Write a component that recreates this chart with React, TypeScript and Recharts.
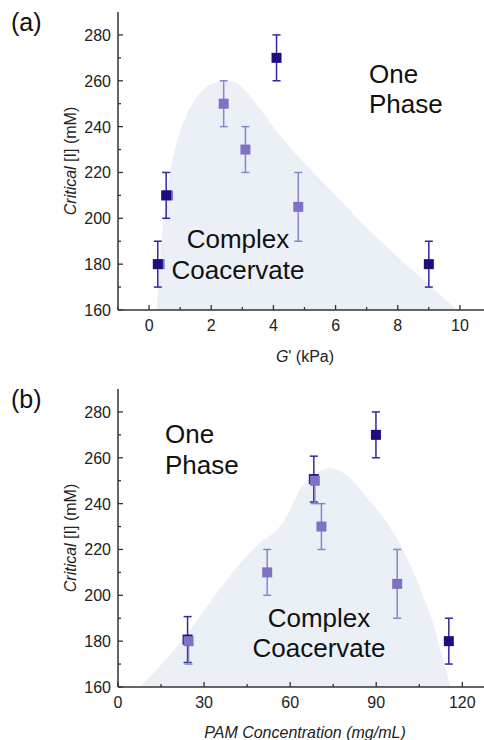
import React from 'react'
import { Area, ComposedChart, ErrorBar, Scatter, XAxis, YAxis } from 'recharts'

// panel (a): critical salt vs G'
const A_DARK = [
  { x: 0.28, y: 180, err: 10 },
  { x: 0.55, y: 210, err: 10 },
  { x: 4.1, y: 270, err: 10 },
  { x: 9.0, y: 180, err: 10 },
]
const A_LIGHT = [
  { x: 0.34, y: 180, err: 0 },
  { x: 0.61, y: 210, err: 0 },
  { x: 2.4, y: 250, err: 10 },
  { x: 3.1, y: 230, err: 10 },
  { x: 4.8, y: 205, err: 15 },
]
const A_REGION = [
  { x: 0.24, y: 160 },
  { x: 0.4, y: 190 },
  { x: 0.6, y: 214 },
  { x: 0.85, y: 231 },
  { x: 1.2, y: 245 },
  { x: 1.6, y: 254 },
  { x: 2.1, y: 259 },
  { x: 2.6, y: 260 },
  { x: 3.0, y: 257 },
  { x: 3.5, y: 249 },
  { x: 4.1, y: 238 },
  { x: 5, y: 224 },
  { x: 6, y: 210 },
  { x: 7, y: 196 },
  { x: 8, y: 183 },
  { x: 9, y: 171 },
  { x: 9.9, y: 160 },
]
const A_MAJOR = [0, 2, 4, 6, 8, 10]
const A_MINOR = [-1, 1, 3, 5, 7, 9, 11]

// panel (b): critical salt vs PAM concentration
const B_DARK = [
  { x: 24.25, y: 180.7, err: 10 },
  { x: 68.25, y: 250.7, err: 10 },
  { x: 89.9, y: 270, err: 10 },
  { x: 115.3, y: 180, err: 10 },
]
const B_LIGHT = [
  { x: 24.6, y: 180, err: [10, 0] },
  { x: 52, y: 210, err: 10 },
  { x: 68.6, y: 250, err: [10, 0] },
  { x: 70.9, y: 230, err: 10 },
  { x: 97.3, y: 205, err: 15 },
]
const B_REGION = [
  { x: 7.6, y: 160 },
  { x: 16, y: 171 },
  { x: 24.6, y: 184 },
  { x: 35, y: 202 },
  { x: 44, y: 216 },
  { x: 50.5, y: 224 },
  { x: 55, y: 228 },
  { x: 58.6, y: 234 },
  { x: 63.3, y: 246 },
  { x: 67.9, y: 252 },
  { x: 73.7, y: 255.5 },
  { x: 80, y: 252 },
  { x: 86.5, y: 243 },
  { x: 93, y: 233 },
  { x: 98, y: 223 },
  { x: 103, y: 210 },
  { x: 107.3, y: 196.6 },
  { x: 110.5, y: 185 },
  { x: 113, y: 173 },
  { x: 116, y: 160 },
]
const B_MAJOR = [0, 30, 60, 90, 120]
const B_MINOR = [15, 45, 75, 105]

const Y_MAJOR = [160, 180, 200, 220, 240, 260, 280]
const Y_MINOR = [170, 190, 210, 230, 250, 270]

const FONT = '"Liberation Sans", Arial, sans-serif'
const AXIS = '#333'
const DARK = '#1d0d80'
const DARK_BAR = '#3626a0'
const LIGHT = '#7d73c4'
const LIGHT_BAR = '#8c84cc'
const SHADE = '#ebf0f7'

const W = 501
const H = 370

const square = (fill: string) => (p: any) => (
  <rect x={p.cx - 5} y={p.cy - 5} width={10} height={10} fill={fill} />
)

const makeTick = (side: 'bottom' | 'top' | 'left', majors: number[], label: boolean) => (p: any) => {
  const v = p.payload.value
  const major = majors.includes(v)
  const len = major ? 5 : 3
  if (side === 'left') {
    return (
      <g>
        <line x1={p.x} x2={p.x + len} y1={p.y} y2={p.y} stroke={AXIS} strokeWidth={1.3} />
        {label && major && (
          <text x={p.x - 7} y={p.y + 6} textAnchor="end" fontSize={16} fill="#222" fontFamily={FONT}>
            {v}
          </text>
        )}
      </g>
    )
  }
  const dir = side === 'bottom' ? -1 : 1
  return (
    <g>
      <line x1={p.x} x2={p.x} y1={p.y} y2={p.y + dir * len} stroke={AXIS} strokeWidth={1.3} />
      {label && major && (
        <text x={p.x} y={p.y + 21} textAnchor="middle" fontSize={16} fill="#222" fontFamily={FONT}>
          {v}
        </text>
      )}
    </g>
  )
}

function Panel(props: {
  dark: any[]
  light: any[]
  region: any[]
  domain: [number, number]
  majors: number[]
  minors: number[]
  top: number
  xHeight: number
  lightOnTop: boolean
}) {
  const xTicks = [...props.majors, ...props.minors].sort((a, b) => a - b)
  const yTicks = [...Y_MAJOR, ...Y_MINOR].sort((a, b) => a - b)
  const darkS = (
    <Scatter key="d" data={props.dark} shape={square(DARK)} isAnimationActive={false}>
      <ErrorBar dataKey="err" direction="y" width={4} stroke={DARK_BAR} strokeWidth={1.5} />
    </Scatter>
  )
  const lightS = (
    <Scatter key="l" data={props.light} shape={square(LIGHT)} isAnimationActive={false}>
      <ErrorBar dataKey="err" direction="y" width={4} stroke={LIGHT_BAR} strokeWidth={1.5} />
    </Scatter>
  )
  return (
    <ComposedChart width={W} height={H} margin={{ top: props.top, right: 10, bottom: 0, left: 0 }}>
      <XAxis
        dataKey="x"
        type="number"
        domain={props.domain}
        ticks={xTicks}
        interval={0}
        height={props.xHeight}
        tickSize={0}
        tickMargin={0}
        tick={makeTick('bottom', props.majors, true)}
        axisLine={{ stroke: AXIS, strokeWidth: 1.5 }}
        allowDataOverflow
      />
      <XAxis
        xAxisId="top"
        orientation="top"
        dataKey="x"
        type="number"
        domain={props.domain}
        ticks={xTicks}
        interval={0}
        height={0}
        tickSize={0}
        tickMargin={0}
        tick={makeTick('top', props.majors, false)}
        axisLine={{ stroke: AXIS, strokeWidth: 1.5 }}
        allowDataOverflow
      />
      <YAxis
        dataKey="y"
        type="number"
        domain={[160, 290]}
        ticks={yTicks}
        interval={0}
        width={118}
        tickSize={0}
        tickMargin={0}
        tick={makeTick('left', Y_MAJOR, true)}
        axisLine={{ stroke: AXIS, strokeWidth: 1.5 }}
        allowDataOverflow
      />
      <Area
        data={props.region}
        dataKey="y"
        type="monotone"
        stroke="none"
        fill={SHADE}
        fillOpacity={1}
        isAnimationActive={false}
      />
      {props.lightOnTop ? [darkS, lightS] : [lightS, darkS]}
    </ComposedChart>
  )
}

const txt = { fontFamily: FONT, fill: '#111' }

export default function App() {
  return (
    <div
      style={{
        position: 'fixed',
        left: 0,
        top: 0,
        width: 484,
        height: 740,
        overflow: 'hidden',
        background: '#fff',
      }}
    >
      <div style={{ position: 'absolute', left: 0, top: 0 }}>
        <Panel
          dark={A_DARK}
          light={A_LIGHT}
          region={A_REGION}
          domain={[-1, 11]}
          majors={A_MAJOR}
          minors={A_MINOR}
          top={12}
          xHeight={60}
          lightOnTop={false}
        />
      </div>
      <div style={{ position: 'absolute', left: 0, top: 370 }}>
        <Panel
          dark={B_DARK}
          light={B_LIGHT}
          region={B_REGION}
          domain={[0, 130]}
          majors={B_MAJOR}
          minors={B_MINOR}
          top={19}
          xHeight={53}
          lightOnTop={true}
        />
      </div>
      <svg
        width={484}
        height={740}
        style={{ position: 'absolute', left: 0, top: 0, pointerEvents: 'none' }}
      >
        <text x={11} y={31} fontSize={25} {...txt}>(a)</text>
        <text x={11} y={408} fontSize={25} {...txt}>(b)</text>

        <text x={369} y={83} fontSize={26} {...txt}>One</text>
        <text x={369} y={113} fontSize={26} {...txt}>Phase</text>
        <text x={238} y={248} fontSize={26} textAnchor="middle" {...txt}>Complex</text>
        <text x={238} y={279} fontSize={26} textAnchor="middle" {...txt}>Coacervate</text>

        <text x={165} y={443} fontSize={26} {...txt}>One</text>
        <text x={165} y={474} fontSize={26} {...txt}>Phase</text>
        <text x={319} y={627} fontSize={26} textAnchor="middle" {...txt}>Complex</text>
        <text x={319} y={657} fontSize={26} textAnchor="middle" {...txt}>Coacervate</text>

        <text x={305} y={362} fontSize={16} textAnchor="middle" {...txt} fill="#222">
          <tspan fontStyle="italic">G</tspan>' (kPa)
        </text>
        <text x={305} y={738} fontSize={16} textAnchor="middle" fontStyle="italic" {...txt} fill="#222">
          PAM Concentration (mg/mL)
        </text>

        <text
          transform="translate(76 161) rotate(-90)"
          fontSize={16}
          textAnchor="middle"
          {...txt}
          fill="#222"
        >
          <tspan fontStyle="italic">Critical</tspan> [I] (mM)
        </text>
        <text
          transform="translate(76 538) rotate(-90)"
          fontSize={16}
          textAnchor="middle"
          {...txt}
          fill="#222"
        >
          <tspan fontStyle="italic">Critical</tspan> [I] (mM)
        </text>
      </svg>
    </div>
  )
}
